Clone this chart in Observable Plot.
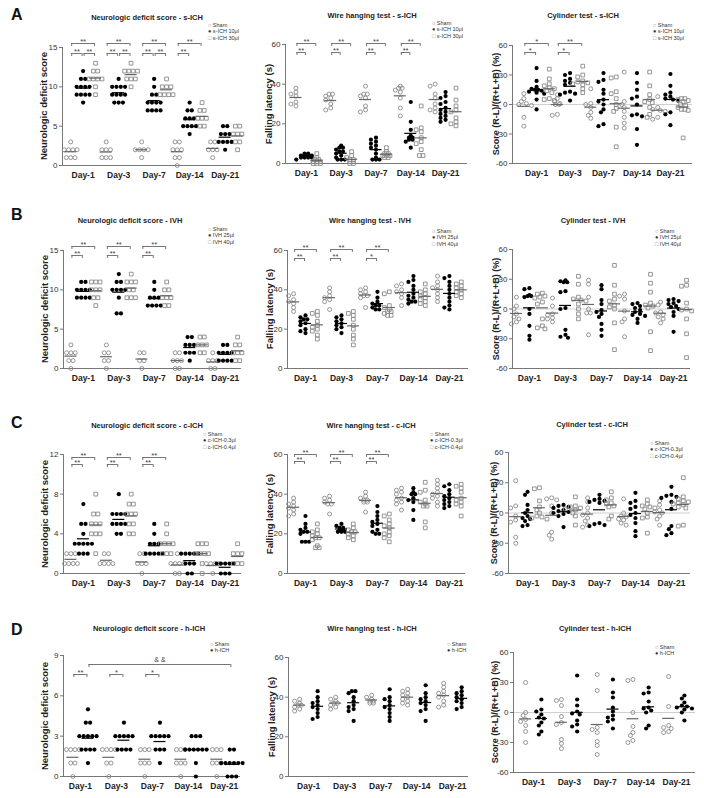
<!DOCTYPE html>
<html><head><meta charset="utf-8">
<script src="https://cdn.jsdelivr.net/npm/d3@7"></script>
<script src="https://cdn.jsdelivr.net/npm/@observablehq/plot@0.6"></script>
<style>
body{margin:0;background:#fff;}
#fig{position:relative;width:704px;height:798px;font-family:Arial,"Liberation Sans",sans-serif;overflow:hidden;background:#fff}
.panel{position:absolute}
.title{position:absolute;font-weight:bold;font-size:7.5px;color:#222;white-space:nowrap;transform:translate(-50%,-50%)}
.ylab{position:absolute;font-weight:bold;color:#222;white-space:nowrap;transform:translate(-50%,-50%) rotate(-90deg)}
.letter{position:absolute;font-weight:bold;font-size:16px;line-height:16px;color:#111}
.legend{position:absolute;font-size:5.5px;line-height:6.3px;color:#333;white-space:nowrap}
.legend .g{color:#8a8a8a}
</style></head><body><div id="fig"></div><script>
const days = ["Day-1","Day-3","Day-7","Day-14","Day-21"];
const groupsS = ["Sham","s-ICH 10μl","s-ICH 30μl"];
const groupsI = ["Sham","IVH 25μl","IVH 40μl"];
const groupsC = ["Sham","c-ICH-0.3μl","c-ICH-0.4μl"];
const groupsH = ["Sham","h-ICH"];

// ---- Row A: s-ICH ----
const neuroS_sham = [[3,2,2,2,1,1,1,2],[3,2,2,2,1,1,1],[3,2,2,2,2,1],[3,3,2,2,2,1,1,0],[3,3,2,2,2,1]];
const neuroS_10 = [[12,11,11,10,10,10,10,9,9,9,9,8],[11,10,10,10,10,9,9,9,9,8,8,8],[11,10,9,9,8,8,8,8,7,7,7,7],[8,7,7,6,6,6,5,5,5,5,4],[5,5,4,4,4,3,3,3,3,2]];
const neuroS_30 = [[13,12,12,11,11,11,11,10,9],[13,12,12,12,12,11,11,11,10],[11,10,10,10,9,9,9,9],[8,7,7,6,6,6,5,5],[5,5,4,4,4,3,3,2]];
const neuroS_br = [[0,0,0,1,0,"**"],[0,1,0,2,0,"**"],[0,0,0,2,1,"**"],[1,0,1,1,0,"**"],[1,1,1,2,0,"**"],[1,0,1,2,1,"**"],[2,0,2,1,0,"**"],[2,1,2,2,0,"**"],[2,0,2,2,1,"**"],[3,0,3,1,0,"**"],[3,0,3,2,1,"**"]];

const wireS_sham = [[38,36,35,34,31,30,29],[35,35,34,33,32,30,28,27],[39,35,35,34,33,29,27,26],[39,38,38,37,36,33,28,24],[40,39,35,33,30,28,27,26]];
const wireS_10 = [[5,5,4,4,4,4,3,3,3,3,2],[9,8,8,7,6,6,5,4,3,2,2,2],[13,12,11,10,9,8,7,5,3,2,2,2],[31,21,17,14,13,13,12,12,11,8],[36,34,33,31,30,28,27,26,25,24,23,22,21]];
const wireS_30 = [[5,3,2,2,1,1,1,0,0,0],[6,4,3,2,2,1,1,0,0],[8,6,5,5,4,4,4,3,3],[29,18,17,16,13,11,10,7,4,4],[38,32,29,27,26,23,21,20,19]];
const wireS_br = [[0,0,0,1,0,"**"],[0,0,0,2,1,"**"],[1,0,1,1,0,"**"],[1,0,1,2,1,"**"],[2,0,2,1,0,"**"],[2,0,2,2,1,"**"],[3,0,3,1,0,"**"],[3,0,3,2,1,"**"]];

const cylS_sham = [[11,6,3,1,0,-1,-13,-22],[10,6,3,1,0,0,-10,-11],[16,1,0,-3,-8,-11,-14],[33,3,0,-3,-7,-13,-19,-24],[8,-3,-5,-6,-7,-13,-15]];
const cylS_10 = [[37,24,18,16,15,15,14,13,12,11,5,-5],[32,30,26,24,22,20,13,12,11,10,4],[32,25,23,15,11,5,3,0,-5,-8,-20,-22],[32,22,15,8,6,0,-10,-11,-12,-25,-41],[31,19,12,10,8,6,5,4,-8,-10,-21]];
const cylS_30 = [[36,26,21,19,17,16,14,12,6,5,4],[39,30,28,24,23,22,21,20,16,12],[28,27,13,11,6,0,-4,-7,-23,-43],[33,19,10,5,3,2,-3,-10,-13],[6,6,5,4,3,0,-1,-3,-5,-5,-6,-34]];
const cylS_br = [[0,0,0,1,0,"*"],[0,0,0,2,1,"*"],[1,0,1,1,0,"*"],[1,0,1,2,1,"**"]];

// ---- Row B: IVH ----
const neuroI_sham = [[3,2,2,2,1,1,0],[3,2,2,1,1,0],[2,2,1,1,0],[2,2,1,1,1,0,0],[2,1,1,1,0,0]];
const neuroI_25 = [[11,11,10,10,10,10,9,9,9,9],[12,11,11,10,10,10,10,9,7,7],[11,10,9,9,9,8,8,8,8],[4,4,3,3,3,2,2,2,1],[3,3,2,2,2,2,1,1,1,1]];
const neuroI_40 = [[11,11,11,10,10,10,9,9,8],[12,11,11,11,10,10,9,9,9],[11,10,10,9,9,9,8,8],[4,4,3,3,3,2,2],[4,3,3,2,2,2,1,1]];
const neuroI_br = [[0,0,0,1,0,"**"],[0,0,0,2,1,"**"],[1,0,1,1,0,"**"],[1,0,1,2,1,"**"],[2,0,2,1,0,"**"],[2,0,2,2,1,"**"]];

const wireI_sham = [[38,37,35,34,33,31,29],[41,39,37,36,35,34,30],[41,40,39,38,37,37,36,31],[43,42,40,39,38,36,32],[47,44,42,41,40,38,36,34]];
const wireI_25 = [[27,26,25,25,24,23,22,20,19,18],[27,26,25,24,23,22,21,20,18],[39,36,34,33,32,32,31,30,30],[47,45,44,42,40,38,37,36,35,34,34,33],[47,46,44,42,40,38,36,34,32,31,30]];
const wireI_40 = [[29,28,27,24,22,21,20,19,17,15],[29,28,27,25,22,20,17,15,12],[39,38,32,31,30,29,29,28,27,27],[43,40,39,38,37,36,35,34,33,32],[44,43,42,41,40,39,38,37,36]];
const wireI_br = [[0,0,0,1,0,"**"],[0,0,0,2,1,"**"],[1,0,1,1,0,"**"],[1,0,1,2,1,"**"],[2,0,2,1,0,"*"],[2,0,2,2,1,"**"]];

const cylI_sham = [[12,3,0,-5,-8,-10,-13,-15],[11,3,-5,-6,-9,-10,-13],[29,25,12,0,-4,-4,-26],[15,13,10,-2,-10,-13,-28],[7,4,-3,-4,-6,-8,-10,-14]];
const cylI_25 = [[21,20,14,13,13,12,0,-5,-17,-27,-31],[29,28,27,27,18,17,1,0,-21,-26,-28,-29],[24,20,9,5,-1,-3,-5,-8,-15,-21,-27],[6,5,3,1,-1,-3,-5,-6,-7,-10,-14],[10,9,8,6,5,3,2,0,-3,-7,-23]];
const cylI_40 = [[16,15,13,12,11,7,5,-10,-17,-19,-20],[33,25,12,10,9,8,5,0,-5,-10],[44,24,15,10,8,4,2,0,-14,-41],[35,26,17,6,4,3,1,-23,-42],[29,24,23,6,0,-1,-2,-10,-25,-49]];

// ---- Row C: c-ICH ----
const neuroC_sham = [[2,2,2,1,1,1,1],[2,2,1,1,1,1],[2,2,1,1,1,0],[2,1,1,1,1,0,0],[1,1,1,1,0]];
const neuroC_03 = [[7,5,5,4,3,3,3,3,3,2,2,2],[8,6,6,6,6,5,5,5,5,4,4],[5,4,3,3,3,2,2,2,2,2],[2,2,2,2,2,1,1,1,0,0],[1,1,1,1,1,0,0,0]];
const neuroC_04 = [[8,6,6,5,5,5,4,4,4,2],[8,7,7,6,6,6,5,5,4,4],[5,4,3,3,3,3,2,2,2],[3,3,3,2,2,2,1,0,2],[3,2,2,1,1,1,2]];
const neuroC_br = [[0,0,0,1,0,"**"],[0,0,0,2,1,"**"],[1,0,1,1,0,"**"],[1,0,1,2,1,"**"],[2,0,2,1,0,"**"],[2,0,2,2,1,"**"]];

const wireC_sham = [[38,36,35,34,33,32,30,29],[39,38,37,36,35,35,30],[41,39,38,37,37,36,36,31],[43,42,41,40,38,37,36,35,32],[47,45,43,41,40,39,38,36,34]];
const wireC_03 = [[29,25,23,22,21,21,20,16,16,16],[25,24,23,23,22,22,21,21,21],[34,31,29,27,26,25,24,22,21,20,20],[43,41,40,40,38,37,36,32,27],[45,44,42,40,39,38,37,36,35,34,33]];
const wireC_04 = [[25,22,21,20,19,18,18,17,14,13,13],[25,23,22,21,21,20,19,18,17],[30,29,27,25,24,23,21,20,19,18,16],[46,42,41,37,36,35,34,34,26,23],[45,44,43,41,38,37,36,35,34,29]];
const wireC_br = [[0,0,0,1,0,"**"],[0,0,0,2,1,"**"],[1,0,1,1,0,"**"],[1,0,1,2,1,"**"],[2,0,2,1,0,"**"],[2,0,2,2,1,"**"]];

const cylC_sham = [[32,7,5,-3,-7,-9,-24,-30],[15,14,13,7,0,-19,-22,-26],[15,11,5,0,-2,-5,-8,-12,-14],[14,0,-3,-4,-6,-7,-10,-12],[12,8,3,1,0,-3,-6,-12]];
const cylC_03 = [[21,18,8,3,0,-3,-5,-6,-8,-12,-13],[8,7,6,5,3,2,1,0,-1,-3,-14],[18,14,13,12,11,10,-10,-11,-12,-13],[20,12,10,6,4,0,-2,-5,-10,-18,-23],[26,18,17,16,15,11,4,-13,-16,-20,-22]];
const cylC_04 = [[25,24,12,6,3,0,-3,-4,-5,-6],[16,7,6,5,4,3,0,-3,-12],[21,15,13,10,9,7,6,-3,-6],[13,9,7,6,5,4,0,-4,-5,-20],[35,16,14,12,11,10,9,8,6,5,-12,-13]];

// ---- Row D: h-ICH ----
const neuroH_sham = [[2,2,2,2,1,1,0],[2,2,2,2,1,1,0],[2,2,2,1,1,1,0],[2,2,2,1,1,1,0],[2,2,2,1,1,1,0]];
const neuroH_ich = [[5,4,4,3,3,3,3,3,2,2,2,2,1],[4,3,3,3,3,3,2,2,2,2],[4,3,3,3,3,3,2,2,2,1],[3,3,3,2,2,2,2,2,2,1,0],[2,2,1,1,1,1,1,1,0,0,0]];
const neuroH_br = [[0,0,0,1,0,"**"],[1,0,1,1,0,"*"],[2,0,2,1,0,"*"],[0,1,4,1,1,"& &"]];

const wireH_sham = [[39,38,37,36,36,35,34,33],[40,39,38,37,37,36,35,34],[41,40,39,38,38,37,37],[44,43,42,41,40,39,38,37,36],[47,45,43,42,41,40,38,36,35]];
const wireH_ich = [[43,40,38,37,36,35,34,32,30,29],[43,43,42,40,38,36,35,34,33,28],[44,40,39,38,36,35,34,32,30,28],[46,42,40,39,38,37,36,34,33,28],[45,43,42,41,40,39,38,37,35,34]];

const cylH_sham = [[30,0,-3,-7,-9,-13,-19,-30],[13,12,7,-4,-10,-12,-27,-31,-36],[38,22,-15,-17,-20,-29,-33,-42],[32,33,0,-14,-20,-23,-28,-30],[36,6,-13,-15,-16,-19,-20]];
const cylH_ich = [[13,3,1,-2,-5,-6,-10,-13,-19,-22],[37,13,7,1,-1,-2,-8,-12,-14,-19],[33,20,15,5,1,-3,-5,-7,-9,-16],[25,20,19,11,5,4,2,0,-13,-16],[17,14,10,7,6,5,4,3,0,-8]];

const neuroTicks15 = [0,5,10,15], neuroTicks12 = [0,4,8,12], neuroTicks9 = [0,3,6,9];
const wireTicks = [0,20,40,60], cylTicks = [-60,-30,0,30,60];
const yLabNeuro = "Neurologic deficit score", yLabWire = "Falling latency (s)", yLabCyl = "Score (R-L)/(R+L+B) (%)";

const fig = document.getElementById("fig");
const GRAY = "#8a8a8a";

function makePanel(c) {
  const svgL = Math.max(0, c.left - 58), svgT = c.top - 24;
  const W = c.right + 6 - svgL, H = c.bottom + 22 - svgT;
  const [x0, x1] = c.xd, [y0, y1] = c.yd;
  const pxX = (c.right - c.left) / (x1 - x0), pxY = (c.bottom - c.top) / (y1 - y0);
  const step = c.step || 4.3, minD = c.minD || 4.0;
  const pts = [], means = [];
  c.series.forEach((ser, g) => ser.forEach((vals, d) => {
    const cx = d + c.off[g];
    const placed = [];
    const ties = d3.groups(vals, v => v).sort((a, b) => b[0] - a[0]);
    for (const [v, arr] of ties) {
      const py = v * pxY, n = arr.length;
      if (n > 1) {
        for (let k = 0; k < n; k++) { const o = (k - (n - 1) / 2) * step; placed.push([o, py]); pts.push({x: cx + o / pxX, y: v, g}); }
      } else {
        let o = 0;
        for (let k = 0; k < 30; k++) {
          const cand = k === 0 ? 0 : (k % 2 ? -1 : 1) * Math.ceil(k / 2) * step * 0.7;
          if (placed.every(p => Math.hypot(p[0] - cand, p[1] - py) >= minD)) { o = cand; break; }
        }
        placed.push([o, py]); pts.push({x: cx + o / pxX, y: v, g});
      }
    }
    means.push({x1: cx - 6 / pxX, x2: cx + 6 / pxX, y: d3.mean(vals), g});
  }));
  const brs = (c.br || []).map(([d1, g1, d2, g2, t, lab]) => {
    const y = y1 - (c.brTop + (t === 0 ? c.gap : 0)) / pxY;
    const xa = d1 + c.off[g1] + 1 / pxX, xb = d2 + c.off[g2] - 1 / pxX;
    return {xa, xb, y, yt: y - 3 / pxY, lab, xm: (xa + xb) / 2};
  });
  const marks = [];
  if (c.zero) marks.push(Plot.ruleY([0], {stroke: "#cfcfcf", strokeWidth: 1}));
  marks.push(Plot.ruleY([y0], {stroke: "#777", strokeWidth: 1}));
  marks.push(Plot.ruleX([x0], {y1: y0, y2: y1, stroke: "#777", strokeWidth: 1}));
  marks.push(Plot.axisY(c.yticks, {tickSize: 3, tickPadding: 2, fontSize: 8, tickFormat: d => String(d), stroke: "#777", fill: "#333", label: null}));
  marks.push(Plot.axisX([0, 1, 2, 3, 4], {tickSize: 0, tickPadding: 6, fontSize: 8.5, fontWeight: "bold", tickFormat: i => days[i], fill: "#222", label: null}));
  marks.push(Plot.dot(pts.filter(p => p.g === 0), {x: "x", y: "y", r: 2, stroke: GRAY, strokeWidth: 0.9, fill: "none"}));
  marks.push(Plot.dot(pts.filter(p => p.g === 1), {x: "x", y: "y", r: 2.1, fill: "#000", stroke: "none"}));
  if (c.series.length > 2) marks.push(Plot.dot(pts.filter(p => p.g === 2), {x: "x", y: "y", r: 2.1, symbol: "square", stroke: GRAY, strokeWidth: 0.9, fill: "none"}));
  marks.push(Plot.ruleY(means.filter(m => m.g !== 1), {x1: "x1", x2: "x2", y: "y", stroke: "#666", strokeWidth: 1.2}));
  marks.push(Plot.ruleY(means.filter(m => m.g === 1), {x1: "x1", x2: "x2", y: "y", stroke: "#000", strokeWidth: 1.2}));
  if (brs.length) {
    marks.push(Plot.ruleY(brs, {x1: "xa", x2: "xb", y: "y", stroke: "#666", strokeWidth: 0.9}));
    marks.push(Plot.ruleX(brs, {x: "xa", y1: "y", y2: "yt", stroke: "#666", strokeWidth: 0.9}));
    marks.push(Plot.ruleX(brs, {x: "xb", y1: "y", y2: "yt", stroke: "#666", strokeWidth: 0.9}));
    marks.push(Plot.text(brs.filter(b => /\*/.test(b.lab)), {x: "xm", y: "y", text: "lab", dy: -1.5, fontSize: 7.5, fill: "#444"}));
    marks.push(Plot.text(brs.filter(b => !/\*/.test(b.lab)), {x: "xm", y: "y", text: "lab", dy: -5, fontSize: 7, fill: "#444"}));
  }
  const svg = Plot.plot({
    width: W, height: H,
    marginLeft: c.left - svgL, marginRight: svgL + W - c.right,
    marginTop: c.top - svgT, marginBottom: svgT + H - c.bottom,
    x: {domain: c.xd, label: null},
    y: {domain: c.yd, label: null},
    style: {fontFamily: "Arial, 'Liberation Sans', sans-serif", background: "transparent", overflow: "visible"},
    marks
  });
  const div = document.createElement("div");
  div.className = "panel";
  div.style.left = svgL + "px"; div.style.top = svgT + "px"; div.style.width = W + "px";
  div.appendChild(svg);
  fig.appendChild(div);
  // rotated y-axis title, centred on the frame
  const yl = document.createElement("div");
  yl.className = "ylab";
  yl.style.left = c.ylx + "px"; yl.style.top = ((c.top + c.bottom) / 2) + "px"; yl.style.fontSize = c.yfs + "px";
  yl.textContent = c.ylab;
  fig.appendChild(yl);
}

function addText(cls, x, y, html) {
  const d = document.createElement("div");
  d.className = cls; d.style.left = x + "px"; d.style.top = y + "px"; d.innerHTML = html;
  fig.appendChild(d);
}
function legend(x, y, groups) {
  const sym = ['<span class="g">○</span>', '<span>●</span>', '<span class="g">□</span>'];
  addText("legend", x, y, groups.map((g, i) => `<div>${sym[i]} ${g}</div>`).join(""));
}

const o3 = [-0.35, 0, 0.35];
const cont = {step: 3.6, minD: 3.3};
const panels = [
  {left: 62, right: 241, top: 47, bottom: 165, yd: [0, 15], yticks: neuroTicks15, xd: [-0.58, 4.46], off: o3, series: [neuroS_sham, neuroS_10, neuroS_30], br: neuroS_br, brTop: -4, gap: 10, ylab: yLabNeuro, ylx: 43, yfs: 9.5},
  {left: 285, right: 467, top: 44, bottom: 163, yd: [0, 60], yticks: wireTicks, xd: [-0.6, 4.63], off: [-0.3, 0, 0.3], series: [wireS_sham, wireS_10, wireS_30], br: wireS_br, brTop: -1, gap: 9, ylab: yLabWire, ylx: 268, yfs: 9.5, ...cont},
  {left: 512, right: 692, top: 45, bottom: 163, yd: [-60, 60], yticks: cylTicks, xd: [-0.72, 4.66], off: [-0.38, 0, 0.38], series: [cylS_sham, cylS_10, cylS_30], br: cylS_br, brTop: -2, gap: 9, zero: true, ylab: yLabCyl, ylx: 496, yfs: 9, ...cont},
  {left: 63, right: 241, top: 250, bottom: 368, yd: [0, 15], yticks: neuroTicks15, xd: [-0.56, 4.46], off: o3, series: [neuroI_sham, neuroI_25, neuroI_40], br: neuroI_br, brTop: -4, gap: 9, ylab: yLabNeuro, ylx: 44, yfs: 9.5},
  {left: 287, right: 468, top: 250, bottom: 368, yd: [0, 60], yticks: wireTicks, xd: [-0.5, 4.53], off: [-0.33, 0, 0.33], series: [wireI_sham, wireI_25, wireI_40], br: wireI_br, brTop: -1, gap: 9, ylab: yLabWire, ylx: 269, yfs: 9.5, ...cont},
  {left: 512, right: 690, top: 249, bottom: 368, yd: [-60, 60], yticks: cylTicks, xd: [-0.47, 4.47], off: [-0.36, 0, 0.36], series: [cylI_sham, cylI_25, cylI_40], zero: true, ylab: yLabCyl, ylx: 496, yfs: 9, ...cont},
  {left: 63, right: 241, top: 454, bottom: 573, yd: [0, 12], yticks: neuroTicks12, xd: [-0.56, 4.46], off: o3, series: [neuroC_sham, neuroC_03, neuroC_04], br: neuroC_br, brTop: 3, gap: 7, ylab: yLabNeuro, ylx: 44, yfs: 9.5},
  {left: 287, right: 465, top: 454, bottom: 573, yd: [0, 60], yticks: wireTicks, xd: [-0.5, 4.45], off: [-0.33, 0, 0.33], series: [wireC_sham, wireC_03, wireC_04], br: wireC_br, brTop: 0, gap: 7, ylab: yLabWire, ylx: 269, yfs: 9.5, ...cont},
  {left: 508, right: 690, top: 452, bottom: 573, yd: [-60, 60], yticks: cylTicks, xd: [-0.53, 4.53], off: [-0.33, 0, 0.33], series: [cylC_sham, cylC_03, cylC_04], zero: true, ylab: yLabCyl, ylx: 494, yfs: 9, ...cont},
  {left: 63, right: 240, top: 655, bottom: 776, yd: [0, 9], yticks: neuroTicks9, xd: [-0.47, 4.45], off: [-0.21, 0.21], series: [neuroH_sham, neuroH_ich], br: neuroH_br, brTop: 9, gap: 10, ylab: yLabNeuro, ylx: 44, yfs: 9.5},
  {left: 288, right: 468, top: 657, bottom: 776, yd: [0, 60], yticks: wireTicks, xd: [-0.56, 4.44], off: [-0.25, 0.25], series: [wireH_sham, wireH_ich], ylab: yLabWire, ylx: 271, yfs: 9.5, ...cont},
  {left: 513, right: 695, top: 652, bottom: 772, yd: [-60, 60], yticks: cylTicks, xd: [-0.56, 4.53], off: [-0.22, 0.22], series: [cylH_sham, cylH_ich], zero: true, ylab: yLabCyl, ylx: 495, yfs: 9, ...cont}
];
panels.forEach(makePanel);

const titles = [
  [147, 17, "Neurologic deficit score - s-ICH"], [372, 15, "Wire hanging test - s-ICH"], [583, 15, "Cylinder test - s-ICH"],
  [130, 220, "Neurologic deficit score - IVH"], [370, 220, "Wire hanging test - IVH"], [593, 220, "Cylinder test - IVH"],
  [147, 425, "Neurologic deficit score - c-ICH"], [371, 425, "Wire hanging test - c-ICH"], [592, 424, "Cylinder test - c-ICH"],
  [149, 628, "Neurologic deficit score - h-ICH"], [372, 628, "Wire hanging test - h-ICH"], [595, 628, "Cylinder test - h-ICH"]
];
titles.forEach(([x, y, t]) => addText("title", x, y, t));
[["A", 7], ["B", 207], ["C", 415], ["D", 622]].forEach(([l, y]) => addText("letter", 11, y, l));
legend(208, 22, groupsS); legend(432, 20, groupsS); legend(653, 22, groupsS);
legend(208, 226, groupsI); legend(432, 228, groupsI); legend(655, 228, groupsI);
legend(203, 431, groupsC); legend(430, 431, groupsC); legend(650, 440, groupsC);
legend(210, 641, groupsH); legend(447, 641, groupsH); legend(655, 644, groupsH);
</script></body></html>
